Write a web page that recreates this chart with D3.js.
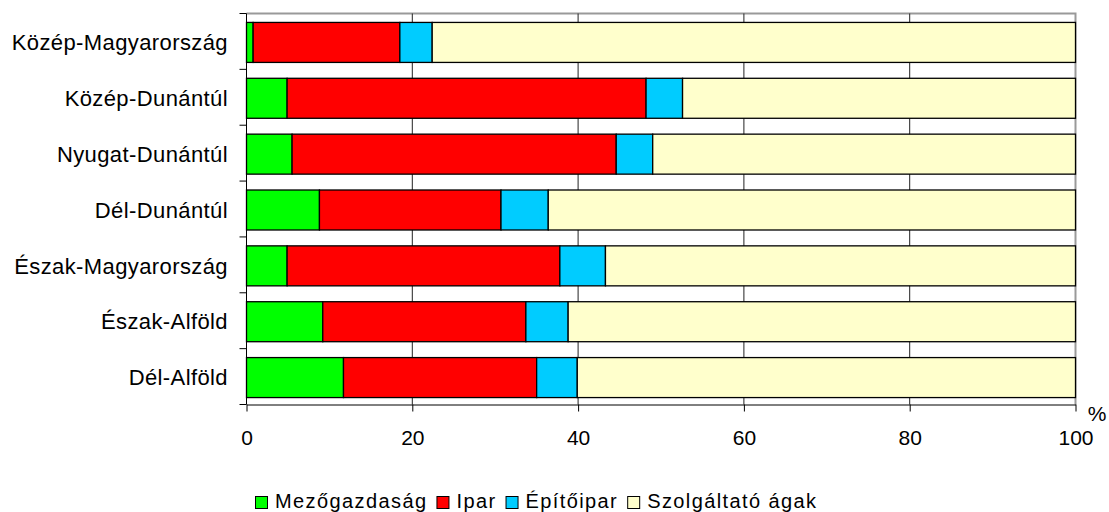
<!DOCTYPE html>
<html>
<head>
<meta charset="utf-8">
<script src="https://cdn.jsdelivr.net/npm/d3@7"></script>
<style>
  body { margin: 0; background: #fff; }
  svg { font-family: "Liberation Sans", Arial, sans-serif; }
</style>
</head>
<body>
<div id="chart"></div>
<script>
// regions, top to bottom
const regions = ['Közép-Magyarország', 'Közép-Dunántúl', 'Nyugat-Dunántúl', 'Dél-Dunántúl',
                 'Észak-Magyarország', 'Észak-Alföld', 'Dél-Alföld'];
const sectors = ['Mezőgazdaság', 'Ipar', 'Építőipar', 'Szolgáltató ágak'];
// share of each sector, %
const agriculture  = [0.8, 4.9, 5.5, 8.8, 4.9, 9.2, 11.7];
const industry     = [17.7, 43.3, 39.1, 21.9, 32.9, 24.5, 23.3];
const construction = [3.9, 4.4, 4.4, 5.7, 5.5, 5.1, 4.9];
const services     = [77.6, 47.4, 51.0, 63.6, 56.7, 61.2, 60.1];
const xTicks = [0, 20, 40, 60, 80, 100];

const colors = ['#00ff00', '#ff0000', '#00ccff', '#ffffcc'];

const width = 1109, height = 512;
const m = { left: 246.5, right: 1075.5, top: 13.5, bottom: 404.5 };

const rows = regions.map((name, i) => {
    const vals = [agriculture[i], industry[i], construction[i], services[i]];
    let acc = 0;
    return {
        name: name,
        segs: vals.map((v, k) => { const s = { k: k, x0: acc, x1: acc + v }; acc += v; return s; })
    };
});

const x = d3.scaleLinear().domain([0, 100]).range([m.left, m.right]);
const y = d3.scaleBand().domain(regions).range([m.top, m.bottom])
    .paddingInner(0.284).paddingOuter(0.142);

const svg = d3.select('#chart').append('svg')
    .attr('width', width)
    .attr('height', height);

// plot frame (top / right in grey)
svg.append('path')
    .attr('d', `M${m.left},${m.top}H${m.right}V${m.bottom}`)
    .attr('fill', 'none')
    .attr('stroke', '#999')
    .attr('stroke-width', 2);

// gridlines
svg.append('g')
    .selectAll('line')
    .data(xTicks.slice(1, -1))
    .enter().append('line')
        .attr('x1', d => x(d)).attr('x2', d => x(d))
        .attr('y1', m.top).attr('y2', m.bottom)
        .attr('stroke', '#222')
        .attr('stroke-width', 1);

// bars
const g = svg.append('g')
    .selectAll('g')
    .data(rows)
    .enter().append('g')
        .attr('transform', d => 'translate(0,' + (y(d.name) + 1) + ')');

g.selectAll('rect')
    .data(d => d.segs)
    .enter().append('rect')
        .attr('x', d => x(d.x0))
        .attr('width', d => x(d.x1) - x(d.x0))
        .attr('height', y.bandwidth())
        .attr('fill', d => colors[d.k])
        .attr('stroke', '#000')
        .attr('stroke-width', 1.3);

// y axis
const yAxis = svg.append('g');
yAxis.append('line')
    .attr('x1', m.left).attr('x2', m.left)
    .attr('y1', m.top).attr('y2', m.bottom)
    .attr('stroke', '#000');
const bounds = d3.range(regions.length + 1).map(i => m.top + i * y.step());
yAxis.selectAll('.tick')
    .data(bounds)
    .enter().append('line')
        .attr('x1', m.left - 7).attr('x2', m.left)
        .attr('y1', d => d).attr('y2', d => d)
        .attr('stroke', '#000');
yAxis.selectAll('text')
    .data(regions)
    .enter().append('text')
        .attr('x', 228)
        .attr('y', d => y(d) + y.bandwidth() / 2 + 1)
        .attr('dy', '0.35em')
        .attr('text-anchor', 'end')
        .attr('font-size', 22)
        .attr('letter-spacing', '0.4px')
        .attr('fill', '#000')
        .text(d => d);

// x axis
const xAxis = svg.append('g')
    .attr('transform', 'translate(0,' + m.bottom + ')')
    .call(d3.axisBottom(x).tickValues(xTicks).tickSize(7).tickSizeOuter(0));
xAxis.select('.domain').attr('stroke', '#000');
xAxis.selectAll('.tick text')
    .attr('font-size', 21)
    .attr('font-family', '"Liberation Sans", Arial, sans-serif')
    .attr('dy', 0)
    .attr('y', 40.5);

svg.append('text')
    .attr('x', 1097)
    .attr('y', 421)
    .attr('text-anchor', 'middle')
    .attr('font-size', 21)
    .text('%');

// legend
const legend = svg.append('g').attr('transform', 'translate(255,496)');
let lx = 0;
sectors.forEach((s, i) => {
    legend.append('rect')
        .attr('x', lx + 0.5).attr('y', 0.5)
        .attr('width', 12).attr('height', 12)
        .attr('fill', colors[i])
        .attr('stroke', '#000');
    const t = legend.append('text')
        .attr('x', lx + 20)
        .attr('y', 12)
        .attr('font-size', 20)
        .attr('letter-spacing', '1.4px')
        .text(s);
    lx += 20 + t.node().getComputedTextLength() + 9;
});
</script>
</body>
</html>
